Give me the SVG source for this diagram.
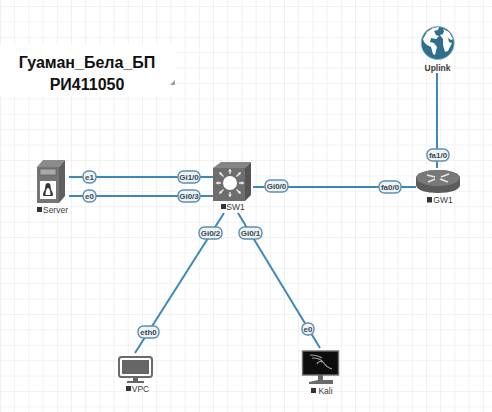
<svg xmlns="http://www.w3.org/2000/svg" width="492" height="412" viewBox="0 0 492 412">
<style>
text{font-family:"Liberation Sans",Arial,sans-serif}
.lnk{stroke:#3d88b6;stroke-width:2;fill:none}
.pill{fill:#edf4f8;stroke:#5f8eac;stroke-width:1.400}
.pt{font-size:8px;fill:#3a4650;text-anchor:middle;font-weight:bold}
.nl{font-size:8.500px;fill:#3c3c3c;text-anchor:middle}
.sq{fill:#333}
.title{font-size:16px;font-weight:bold;fill:#111;text-anchor:middle}
</style>
<defs>
<pattern id="grid" width="14.200" height="15.400" patternUnits="userSpaceOnUse" x="0" y="6">
<path d="M14.200 0H0V15.400" fill="none" stroke="#e8e8e8" stroke-width="1.200"/>
</pattern>
</defs>
<rect width="492" height="412" fill="#fff"/>
<rect width="492" height="412" fill="url(#grid)"/>
<rect x="0" y="45" width="176" height="51" fill="#fff"/>
<g id="title">
<text class="title" x="87" y="68">Гуаман_Бела_БП</text>
<text class="title" x="87" y="90">РИ411050</text>
<path d="M175 80v5h-5z" fill="#999"/>
</g>
<g id="connectors">
<path class="lnk" d="M69 177H215"/>
<path class="lnk" d="M69 196H215"/>
<path class="lnk" d="M253 187H416"/>
<path class="lnk" d="M437 73V168"/>
<path class="lnk" d="M224 213L135 353"/>
<path class="lnk" d="M238 213L320 348"/>
<rect class="pill" x="83" y="171" width="13" height="12" rx="5.500"/><text class="pt" x="89.500" y="179.800">e1</text>
<rect class="pill" x="83" y="190" width="13" height="12" rx="5.500"/><text class="pt" x="89.500" y="198.800">e0</text>
<rect class="pill" x="178" y="171" width="22" height="12" rx="5.500"/><text class="pt" x="189" y="179.800">Gi1/0</text>
<rect class="pill" x="178" y="190" width="22" height="12" rx="5.500"/><text class="pt" x="189" y="198.800">Gi0/3</text>
<rect class="pill" x="265" y="180" width="23" height="12" rx="5.500"/><text class="pt" x="276.500" y="188.800">Gi0/0</text>
<rect class="pill" x="379" y="181" width="22" height="12" rx="5.500"/><text class="pt" x="390" y="189.800">fa0/0</text>
<rect class="pill" x="427" y="149" width="22" height="12" rx="5.500"/><text class="pt" x="438" y="157.800">fa1/0</text>
<rect class="pill" x="199" y="227" width="23" height="12" rx="5.500"/><text class="pt" x="210.500" y="235.800">Gi0/2</text>
<rect class="pill" x="239" y="227" width="23" height="12" rx="5.500"/><text class="pt" x="250.500" y="235.800">Gi0/1</text>
<rect class="pill" x="138" y="326" width="21" height="12" rx="5.500"/><text class="pt" x="148.500" y="334.800">eth0</text>
<rect class="pill" x="302" y="323" width="12" height="12" rx="5.500"/><text class="pt" x="308" y="331.800">e0</text>
</g>
<g id="Server">
<path d="M37 167L43 160H65L59 167Z" fill="#8c8c8c"/>
<path d="M59 167L65 160V196L59 203Z" fill="#5e5e5e"/>
<rect x="37" y="167" width="22" height="36" fill="#757575"/>
<rect x="40" y="169" width="16" height="6" fill="#a8a8a8" stroke="#555" stroke-width=".6"/>
<rect x="40" y="181" width="16" height="18" fill="#fff"/>
<path d="M48 183c-3 0-2.500 4-3 6s-3 5-1.500 7h9c1.500-2-1-5-1.500-7s0-6-3-6z" fill="#333"/>
<path d="M48 188c-1.500 0-2.500 3-2.500 7h5c0-4-1-7-2.500-7z" fill="#fff"/>
<rect class="sq" x="37" y="207" width="5" height="5"/>
<text class="nl" x="55.500" y="212.500">Server</text>
</g>
<g id="SW1">
<path d="M213 168L221 162H251L245 168Z" fill="#858585"/>
<path d="M245 168L251 162V195L245 201Z" fill="#555"/>
<rect x="213" y="168" width="32" height="33" fill="#6e6e6e"/>
<circle cx="230" cy="183" r="7" fill="#fff"/>
<path d="M230 174V170M230 192V196M221 183H217M239 183H243M223.500 176.500L220 173M236.500 176.500L240 173M223.500 189.500L220 193M236.500 189.500L240 193" stroke="#eee" stroke-width="1.300" fill="none"/>
<path d="M230 168.500l-1.800 3h3.600zM230 197.500l-1.800-3h3.600zM215.500 183l3-1.800v3.600zM244.500 183l-3-1.800v3.600zM219 172l3.300 1-2.300 2.300zM241 172l-3.300 1 2.300 2.300zM219 194l3.300-1-2.300-2.300zM241 194l-3.300-1 2.300-2.300z" fill="#eee"/>
<rect class="sq" x="221" y="204" width="5" height="5"/>
<text class="nl" x="235.500" y="210">SW1</text>
</g>
<g id="GW1">
<path d="M416 178C416 173 426 170 438 170C450 170 460 173 460 178V185C460 190 450 193 438 193C426 193 416 190 416 185Z" fill="#5b5b5b"/>
<ellipse cx="438" cy="178" rx="21.500" ry="8" fill="#787878"/>
<path d="M427 175l8 2M449 174l-8 3M428 182l7-3M448 182l-8-3" stroke="#e6e6e6" stroke-width="1.500" fill="none"/>
<rect class="sq" x="427" y="197" width="5" height="5.500"/>
<text class="nl" x="443" y="203">GW1</text>
</g>
<g id="Uplink">
<circle cx="437.700" cy="43" r="16.500" fill="#2e6f90" stroke="#8fb0c2" stroke-width=".8"/>
<path d="M423 39l4-7 6-4 6-1-1 3-4 1 2 4 3 1-3 3-5-1-1 4 4 1 3 4-2 8-2-1-2-7-4-2-3-3zM443 29l6 3 4 7-2 1-3-2 1 4 3 1-4 8-3 1-2-7 0-6-3-4 3-1 1-3z" fill="#fff"/>
<text class="nl" x="437.500" y="70.500" font-weight="bold">Uplink</text>
</g>
<g id="VPC">
<rect x="119" y="357" width="33" height="20" rx="2.500" fill="#fff" stroke="#6a6a6a" stroke-width="2"/>
<rect x="122" y="360" width="27" height="14" fill="#666"/>
<path d="M133 378h5v3h6v2h-17v-2h6z" fill="#666"/>
<rect class="sq" x="126" y="386" width="5" height="5"/>
<text class="nl" x="140.500" y="391.500">VPC</text>
</g>
<g id="Kali">
<rect x="302.500" y="351" width="36" height="24" fill="#0d0d0d" stroke="#707070" stroke-width="1.400"/>
<path d="M310 355c5 0 9 1 12 3M312 358c5 0 9 1 11 4 2 3 5 6 9 7M323 362c-2-1-5-1-6 2" stroke="#a0a0a0" stroke-width="1.200" fill="none"/>
<path d="M318 375h5v5h10v4h-24v-2l9-2z" fill="#6a6a6a"/>
<rect class="sq" x="311" y="388" width="5" height="5"/>
<text class="nl" x="325.500" y="393.500">Kali</text>
</g>
</svg>
